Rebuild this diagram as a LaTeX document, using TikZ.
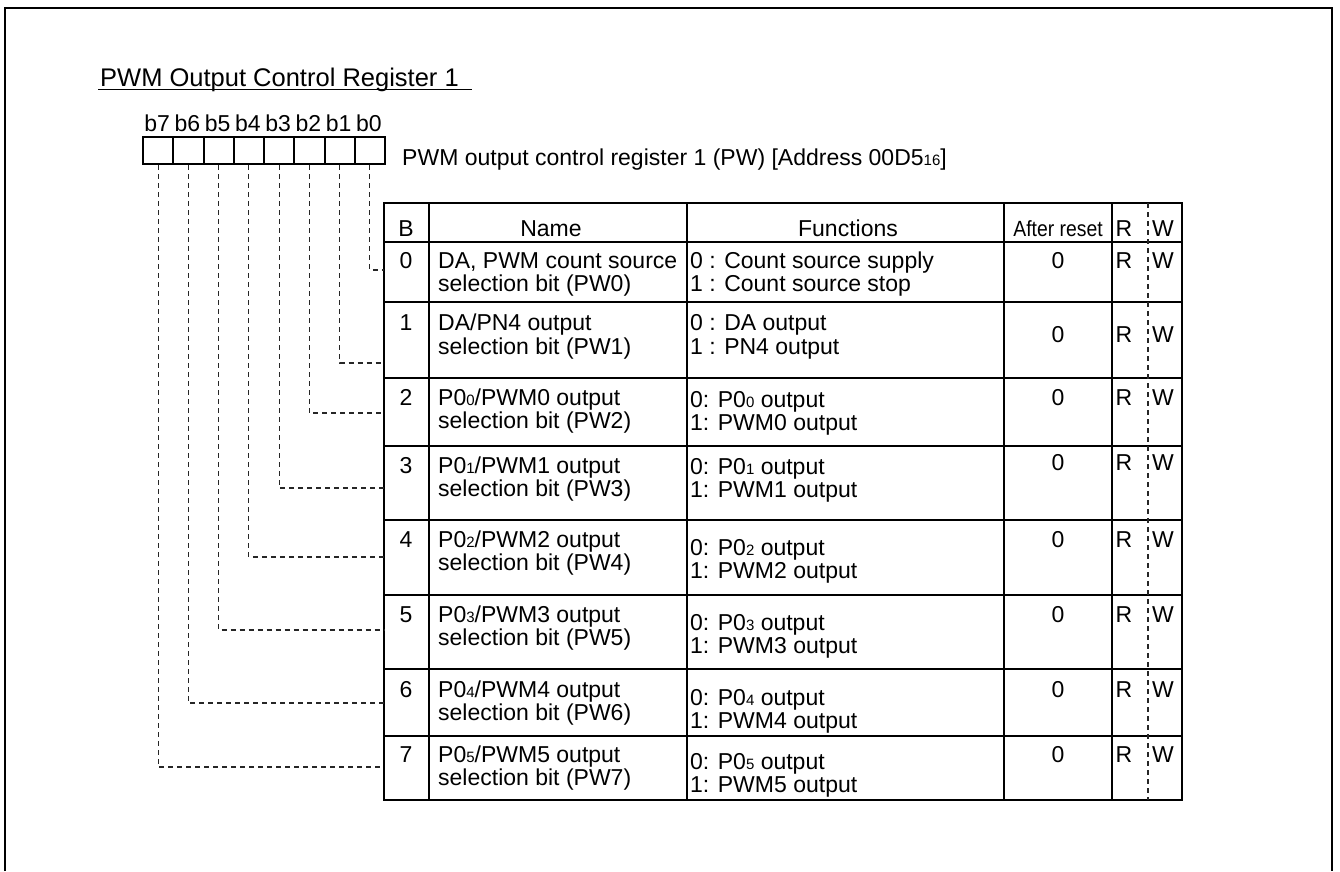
\documentclass[tikz,border=0pt]{standalone}
\usepackage{fontspec}
\setmainfont{Liberation Sans}
\newcommand\sbs[1]{{\fontsize{15}{15}\selectfont #1}}
\begin{document}
\begin{tikzpicture}[x=1pt,y=-1pt,
  txt/.style={inner sep=0pt, anchor=base west, font=\fontsize{23}{23}\selectfont},
  ctxt/.style={inner sep=0pt, anchor=base, font=\fontsize{23}{23}\selectfont},
  gridline/.style={line width=2.5pt, black},
  dashline/.style={line width=1.1pt, dash pattern=on 5pt off 4pt, black!85},
  bitbox/.style={draw, line width=2pt, minimum width=30.25pt, minimum height=27pt, inner sep=0pt, anchor=north west}]
\useasboundingbox (0,0) rectangle (1340,871);
% frame
\draw[line width=2.6pt] (5,871) -- (5,8) -- (1332,8) -- (1332,871);
% title
\node[txt, font=\fontsize{25.5}{25.5}\selectfont] (title) at (100,86) {PWM Output Control Register 1};
\draw[line width=1.5pt] (98,89.5) -- (472,89.5);
% bit boxes
\foreach \i in {0,...,7}{
  \node[bitbox] (b\i) at ({142+(7-\i)*30.25},136) {};
  \node[ctxt] (lb\i) at ({157.1+(7-\i)*30.25},131) {b\i};
}
\node[txt] (reg) at (402,165) {PWM output control register 1 (PW) [Address 00D5\sbs{16}]};
% table grid
\draw[gridline] (384,203) rectangle (1182,800);
\foreach \x in {429,687,1004,1112}{ \draw[gridline] (\x,203) -- (\x,800); }
\foreach \y in {242,302,378,446,520,595,669,736}{ \draw[gridline] (384,\y) -- (1182,\y); }
\draw[dashline] (1148,203) -- (1148,800);
% connector end points on the table edge
\coordinate (t0) at (384,270);
\coordinate (t1) at (384,363);
\coordinate (t2) at (384,413);
\coordinate (t3) at (384,488);
\coordinate (t4) at (384,557);
\coordinate (t5) at (384,630);
\coordinate (t6) at (384,703);
\coordinate (t7) at (384,767);
\foreach \i in {0,...,7}{ \draw[dashline] (b\i.south) |- (t\i); }
% header
\node[ctxt] (hB) at (406,236) {B};
\node[ctxt] (hN) at (551,236) {Name};
\node[ctxt] (hF) at (848,236) {Functions};
\node[ctxt] (hA) at (1058,236) {\scalebox{0.88}[1]{\fontsize{22}{22}\selectfont After reset}};
\node[ctxt] (hR) at (1124,236) {R};
\node[ctxt] (hW) at (1163,236) {W};
% row 0
\node[ctxt] (r0b) at (406,268) {0};
\node[txt] (r0n1) at (438,268) {DA, PWM count source};
\node[txt] (r0n2) at (438,291) {selection bit (PW0)};
\node[txt] (r0f1) at (690,268) {0 : Count source supply};
\node[txt] (r0f2) at (690,291) {1 : Count source stop};
\node[ctxt] (r0a) at (1058,268) {0};
\node[ctxt] (r0r) at (1124,268) {R};
\node[ctxt] (r0w) at (1163,268) {W};
% row 1
\node[ctxt] (r1b) at (406,330) {1};
\node[txt] (r1n1) at (438,330) {DA/PN4 output};
\node[txt] (r1n2) at (438,354) {selection bit (PW1)};
\node[txt] (r1f1) at (690,330) {0 : DA output};
\node[txt] (r1f2) at (690,354) {1 : PN4 output};
\node[ctxt] (r1a) at (1058,342) {0};
\node[ctxt] (r1r) at (1124,342) {R};
\node[ctxt] (r1w) at (1163,342) {W};
% row 2
\node[ctxt] (r2b) at (406,405) {2};
\node[txt] (r2n1) at (438,405) {P0\sbs{0}/PWM0 output};
\node[txt] (r2n2) at (438,428) {selection bit (PW2)};
\node[txt] (r2f1) at (690,407) {0: P0\sbs{0} output};
\node[txt] (r2f2) at (690,430) {1: PWM0 output};
\node[ctxt] (r2a) at (1058,405) {0};
\node[ctxt] (r2r) at (1124,405) {R};
\node[ctxt] (r2w) at (1163,405) {W};
% row 3
\node[ctxt] (r3b) at (406,473) {3};
\node[txt] (r3n1) at (438,473) {P0\sbs{1}/PWM1 output};
\node[txt] (r3n2) at (438,496) {selection bit (PW3)};
\node[txt] (r3f1) at (690,474) {0: P0\sbs{1} output};
\node[txt] (r3f2) at (690,497) {1: PWM1 output};
\node[ctxt] (r3a) at (1058,470) {0};
\node[ctxt] (r3r) at (1124,470) {R};
\node[ctxt] (r3w) at (1163,470) {W};
% row 4
\node[ctxt] (r4b) at (406,547) {4};
\node[txt] (r4n1) at (438,547) {P0\sbs{2}/PWM2 output};
\node[txt] (r4n2) at (438,570) {selection bit (PW4)};
\node[txt] (r4f1) at (690,555) {0: P0\sbs{2} output};
\node[txt] (r4f2) at (690,578) {1: PWM2 output};
\node[ctxt] (r4a) at (1058,547) {0};
\node[ctxt] (r4r) at (1124,547) {R};
\node[ctxt] (r4w) at (1163,547) {W};
% row 5
\node[ctxt] (r5b) at (406,622) {5};
\node[txt] (r5n1) at (438,622) {P0\sbs{3}/PWM3 output};
\node[txt] (r5n2) at (438,645) {selection bit (PW5)};
\node[txt] (r5f1) at (690,630) {0: P0\sbs{3} output};
\node[txt] (r5f2) at (690,653) {1: PWM3 output};
\node[ctxt] (r5a) at (1058,622) {0};
\node[ctxt] (r5r) at (1124,622) {R};
\node[ctxt] (r5w) at (1163,622) {W};
% row 6
\node[ctxt] (r6b) at (406,697) {6};
\node[txt] (r6n1) at (438,697) {P0\sbs{4}/PWM4 output};
\node[txt] (r6n2) at (438,720) {selection bit (PW6)};
\node[txt] (r6f1) at (690,705) {0: P0\sbs{4} output};
\node[txt] (r6f2) at (690,728) {1: PWM4 output};
\node[ctxt] (r6a) at (1058,697) {0};
\node[ctxt] (r6r) at (1124,697) {R};
\node[ctxt] (r6w) at (1163,697) {W};
% row 7
\node[ctxt] (r7b) at (406,762) {7};
\node[txt] (r7n1) at (438,762) {P0\sbs{5}/PWM5 output};
\node[txt] (r7n2) at (438,785) {selection bit (PW7)};
\node[txt] (r7f1) at (690,769) {0: P0\sbs{5} output};
\node[txt] (r7f2) at (690,792) {1: PWM5 output};
\node[ctxt] (r7a) at (1058,762) {0};
\node[ctxt] (r7r) at (1124,762) {R};
\node[ctxt] (r7w) at (1163,762) {W};
\end{tikzpicture}
\end{document}
